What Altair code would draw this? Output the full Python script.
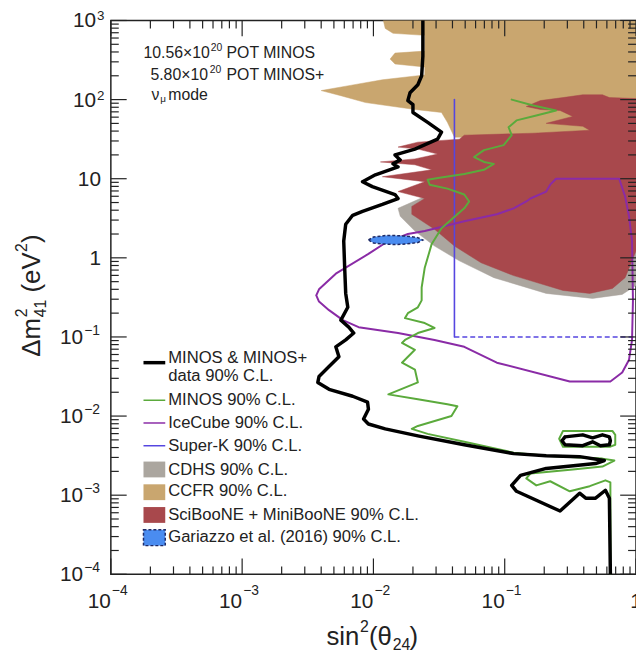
import altair as alt
import pandas as pd

FONT = "Liberation Sans, Arial, Helvetica, sans-serif"
INK = "#222222"
W, H = 531, 560

# ---------------- data (sin^2 theta24 , dm^2_41 [eV^2]) ----------------
ccfr_s2 = [0.0119, 0.0123, 0.0141, 0.0246, 0.0246, 0.0146, 0.0134, 0.0146, 0.0246, 0.0246,
           0.0117, 0.00649, 0.00400, 0.00565, 0.00871, 0.0207, 0.0330, 0.0366, 0.0414, 1.0, 1.0]
ccfr_dm2 = [1000, 794, 688, 649, 410, 387, 325, 282, 258, 205,
            178, 150, 130, 112, 91.7, 75.0, 68.8, 51.6, 33.5, 33.5, 1000]

cdhs_s2 = [1.0, 0.0492, 0.0246, 0.0154, 0.0160, 0.0207, 0.0292, 0.0451, 0.0826, 0.207, 0.467, 0.785, 1.0]
cdhs_dm2 = [21.8, 21.8, 5.96, 4.22, 3.35, 2.18, 1.41, 0.917, 0.562, 0.355, 0.307, 0.345, 0.447]

sbmb_s2 = [1.0, 0.627, 0.555, 0.393, 0.278, 0.187, 0.146, 0.187, 0.264, 0.330, 0.207, 0.393, 0.444,
           0.165, 0.0492, 0.0451, 0.0218, 0.0154, 0.0218, 0.0308, 0.0207, 0.0113, 0.0207, 0.0278,
           0.0117, 0.0246, 0.0154, 0.0246, 0.0196, 0.0196, 0.0292, 0.0414, 0.0661, 0.117, 0.278,
           0.444, 0.661, 0.826, 0.933, 1.0]
sbmb_dm2 = [103, 106, 115, 115, 106, 97.2, 81.8, 75.0, 72.9, 61.3, 50.1, 46.0, 41.0,
            37.6, 35.5, 31.6, 29.0, 25.1, 23.7, 20.5, 17.8, 16.3, 15.0, 12.95,
            10.6, 9.17, 6.88, 5.62, 4.47, 3.55, 2.30, 1.41, 0.866, 0.596, 0.387,
            0.355, 0.410, 0.562, 0.917, 1.22]

superk_s2 = [0.0414, 0.0414]
superk_dm2 = [100, 0.1]
superk_dash_s2 = [0.0414, 1.0]
superk_dash_dm2 = [0.1, 0.1]

icecube_s2 = [0.00367, 0.00385, 0.00517, 0.00916, 0.0123, 0.0183, 0.0246, 0.0492, 0.0871, 0.117,
              0.146, 0.157, 0.207, 0.222, 0.246, 0.745, 0.826, 0.885, 0.933, 0.948, 0.933,
              0.885, 0.785, 0.638, 0.313, 0.0871, 0.0492, 0.0292, 0.0154, 0.00771, 0.00585,
              0.00459, 0.00385, 0.00367]
icecube_dm2 = [0.335, 0.40, 0.631, 1.12, 1.54, 2.0, 2.18, 2.90, 3.55, 4.22,
               5.16, 5.62, 6.88, 8.41, 10.0, 10.0, 5.96, 3.35, 1.63, 0.290, 0.0917,
               0.0516, 0.0355, 0.0274, 0.0274, 0.0473, 0.0750, 0.0917, 0.112, 0.133, 0.163,
               0.218, 0.28, 0.335]

minos_s2 = [0.113, 0.165, 0.246, 0.174, 0.123, 0.107, 0.113, 0.0981, 0.0695, 0.0585, 0.0695,
            0.0826, 0.0695, 0.0492, 0.0319, 0.0259, 0.0268, 0.0366, 0.0492, 0.0536, 0.0492,
            0.0436, 0.0330, 0.0278, 0.0246, 0.0233, 0.0233, 0.0218, 0.0183, 0.0174, 0.0246,
            0.0292, 0.0218, 0.0174, 0.0165, 0.0207, 0.0165, 0.0207, 0.0218, 0.0130, 0.0218,
            0.0366, 0.0436, 0.0393, 0.0218, 0.0196, 0.0259, 0.0492, 0.117, 0.207, 0.372,
            0.555, 0.684, 0.555, 0.330, 0.157, 0.146, 0.174, 0.222, 0.313, 0.444, 0.585,
            0.638, 0.640]
minos_dm2 = [100, 84.1, 72.9, 63.1, 54.6, 44.7, 35.5, 26.6, 23.0, 18.8, 16.3,
             15.4, 12.95, 11.5, 10.3, 9.72, 8.41, 7.50, 6.31, 5.16, 4.22,
             3.55, 2.37, 1.50, 0.750, 0.422, 0.290, 0.237, 0.200, 0.173, 0.150,
             0.130, 0.112, 0.0917, 0.0841, 0.0688, 0.0473, 0.0387, 0.0266, 0.0188, 0.0163,
             0.0141, 0.0133, 0.0100, 0.00750, 0.00688, 0.00596, 0.00473, 0.00345, 0.00316, 0.00299,
             0.00290, 0.00274, 0.00230, 0.00211, 0.00188, 0.00163, 0.00133, 0.00150, 0.00112, 0.00130,
             0.00154, 0.00145, 0.0001]

minos_island_s2 = [0.278, 0.467, 0.661, 0.695, 0.695, 0.638, 0.278, 0.260, 0.278]
minos_island_dm2 = [0.00649, 0.00649, 0.00649, 0.00579, 0.00434, 0.00410, 0.00410, 0.00516, 0.00649]

comb_s2 = [0.0238, 0.0238, 0.0233, 0.0218, 0.0190, 0.0183, 0.0200, 0.0200, 0.0259, 0.0330,
           0.0308, 0.0207, 0.0146, 0.0160, 0.0141, 0.0154, 0.01035, 0.00826, 0.00981, 0.0146,
           0.0154, 0.0117, 0.00826, 0.00695, 0.00615, 0.00594, 0.00604, 0.00615, 0.00638, 0.00565,
           0.00649, 0.00708, 0.00615, 0.00517, 0.00546, 0.00459, 0.00385, 0.00377, 0.00459, 0.00695,
           0.00902, 0.00916, 0.00841, 0.00916, 0.0123, 0.0218, 0.0492, 0.117, 0.207, 0.372,
           0.574, 0.492, 0.207, 0.132, 0.113, 0.123, 0.264, 0.372, 0.414, 0.492,
           0.585, 0.627, 0.638]
comb_dm2 = [1000, 355, 200, 154, 122, 97.2, 86.6, 68.8, 51.6, 38.7,
            31.6, 23.7, 20.0, 17.3, 15.4, 14.1, 11.2, 9.17, 7.94, 6.31,
            5.62, 4.73, 3.87, 3.45, 2.66, 1.63, 0.750, 0.355, 0.237, 0.163,
            0.133, 0.112, 0.0917, 0.0750, 0.0562, 0.0422, 0.0316, 0.0266, 0.0218, 0.0178,
            0.0150, 0.0122, 0.00917, 0.00794, 0.00688, 0.00562, 0.00434, 0.00335, 0.00316, 0.00307,
            0.00274, 0.00251, 0.00218, 0.00178, 0.00133, 0.00112, 0.000631, 0.00106, 0.000917, 0.000917,
            0.001155, 0.000917, 0.0001]

comb_island_s2 = [0.288, 0.393, 0.467, 0.555, 0.627, 0.638, 0.627, 0.536, 0.467, 0.393, 0.288, 0.273, 0.288]
comb_island_dm2 = [0.00546, 0.00579, 0.00531, 0.00579, 0.00546, 0.00487, 0.00434, 0.00422, 0.00473,
                   0.00422, 0.00434, 0.00487, 0.00546]

gariazzo_s2 = [0.00916, 0.0100, 0.0123, 0.0146, 0.0180, 0.0218, 0.0238, 0.0218, 0.0180, 0.0146,
               0.0119, 0.0100, 0.00916]
gariazzo_dm2 = [1.68, 1.83, 1.91, 1.91, 1.88, 1.80, 1.68, 1.56, 1.50, 1.47, 1.50, 1.54, 1.68]

# axis ticks / labels
x_major = [1e-4, 1e-3, 1e-2, 1e-1, 1.0]
y_major = [1e-4, 1e-3, 1e-2, 1e-1, 1.0, 10.0, 100.0, 1000.0]
x_minor = [m * 10.0 ** k for k in range(-4, 0) for m in range(2, 10)]
y_minor = [m * 10.0 ** k for k in range(-4, 3) for m in range(2, 10)]
x_exp_vals = [1e-4, 1e-3, 1e-2, 1e-1]
x_exp_text = ["−4", "−3", "−2", "−1"]
y_neg_vals = [1e-4, 1e-3, 1e-2, 1e-1]
y_neg_text = ["−4", "−3", "−2", "−1"]
y_pos_vals = [100.0, 1000.0]
y_pos_text = ["2", "3"]
y_plain_vals = [1.0, 10.0]
y_plain_text = ["1", "10"]

legend_labels = ["MINOS & MINOS+", "data 90% C.L.", "MINOS 90% C.L.", "IceCube 90% C.L.",
                 "Super-K 90% C.L.", "CDHS 90% C.L.", "CCFR 90% C.L.",
                 "SciBooNE + MiniBooNE 90% C.L.", "Gariazzo et al. (2016) 90% C.L."]

C_CCFR = "#C9A66F"
C_CDHS = "#ABA69F"
C_SBMB = "#A8484C"
C_MINOS = "#5BAA3C"
C_ICE = "#8A2BA6"
C_SK = "#5546E0"
C_GAR = "#4A8CF0"

# ---------------- helpers ----------------
xsc = alt.Scale(type="log", domain=[1e-4, 1.0], nice=False)
ysc = alt.Scale(type="log", domain=[1e-4, 1e3], nice=False)


def XE(f="s2"):
    return alt.X(f"{f}:Q", scale=xsc, axis=None)


def YE(f="dm2"):
    return alt.Y(f"{f}:Q", scale=ysc, axis=None)


def frame(s2, dm2):
    return pd.DataFrame({"s2": s2, "dm2": dm2, "i": list(range(len(s2)))})


def region(s2, dm2, color):
    return alt.Chart(frame(s2, dm2)).mark_line(
        fill=color, stroke=color, strokeWidth=0.5, interpolate="linear-closed", clip=True
    ).encode(x=XE(), y=YE(), order="i:Q")


def curve(s2, dm2, color, width, dash=None):
    kw = dict(color=color, strokeWidth=width, clip=True, strokeJoin="round", strokeCap="round")
    if dash:
        kw["strokeDash"] = dash
        kw["strokeCap"] = "butt"
    return alt.Chart(frame(s2, dm2)).mark_line(**kw).encode(x=XE(), y=YE(), order="i:Q")


one = pd.DataFrame({"a": [0]})


def label(text, x, y, size, align="left", angle=None, color=INK):
    kw = dict(text=text, align=align, baseline="middle", fontSize=size, font=FONT, color=color)
    if angle is not None:
        kw["angle"] = angle
    return alt.Chart(one).mark_text(**kw).encode(x=alt.value(x), y=alt.value(y))


layers = []
layers.append(region(ccfr_s2, ccfr_dm2, C_CCFR))
layers.append(region(cdhs_s2, cdhs_dm2, C_CDHS))
layers.append(region(sbmb_s2, sbmb_dm2, C_SBMB))
layers.append(curve(superk_s2, superk_dm2, C_SK, 1.6))
layers.append(curve(superk_dash_s2, superk_dash_dm2, C_SK, 1.6, dash=[5, 3]))
layers.append(curve(icecube_s2, icecube_dm2, C_ICE, 2.0))
layers.append(curve(minos_s2, minos_dm2, C_MINOS, 2.0))
layers.append(curve(minos_island_s2, minos_island_dm2, C_MINOS, 2.0))
layers.append(curve(comb_s2, comb_dm2, "#000000", 3.5))
layers.append(curve(comb_island_s2, comb_island_dm2, "#000000", 3.5))
layers.append(
    alt.Chart(frame(gariazzo_s2, gariazzo_dm2)).mark_line(
        fill=C_GAR, stroke="#1E2A66", strokeWidth=1.5, strokeDash=[3, 2],
        interpolate="linear-closed", clip=True
    ).encode(x=XE(), y=YE(), order="i:Q")
)

# ticks (inward, on all four sides)
for vals, ln in [(x_major, 16), (x_minor, 8)]:
    d = pd.DataFrame({"v": vals})
    layers.append(alt.Chart(d).mark_rule(color=INK, strokeWidth=1.2).encode(
        x=XE("v"), y=alt.value(H), y2=alt.value(H - ln)))
    layers.append(alt.Chart(d).mark_rule(color=INK, strokeWidth=1.2).encode(
        x=XE("v"), y=alt.value(0), y2=alt.value(ln)))
for vals, ln in [(y_major, 16), (y_minor, 8)]:
    d = pd.DataFrame({"v": vals})
    layers.append(alt.Chart(d).mark_rule(color=INK, strokeWidth=1.2).encode(
        y=YE("v"), x=alt.value(0), x2=alt.value(ln)))
    layers.append(alt.Chart(d).mark_rule(color=INK, strokeWidth=1.2).encode(
        y=YE("v"), x=alt.value(W), x2=alt.value(W - ln)))

# tick labels
tx = pd.DataFrame({"v": x_exp_vals, "b": ["10"] * 4, "e": x_exp_text})
layers.append(alt.Chart(tx).mark_text(align="right", baseline="middle", fontSize=21, font=FONT, color=INK)
              .encode(x=XE("v"), y=alt.value(H + 28), text="b:N"))
layers.append(alt.Chart(tx).mark_text(align="left", baseline="middle", fontSize=14, font=FONT, color=INK, dx=1)
              .encode(x=XE("v"), y=alt.value(H + 17), text="e:N"))
layers.append(alt.Chart(pd.DataFrame({"v": [1.0], "b": ["1"]})).mark_text(
    align="center", baseline="middle", fontSize=21, font=FONT, color=INK)
    .encode(x=XE("v"), y=alt.value(H + 28), text="b:N"))

tyn = pd.DataFrame({"v": y_neg_vals, "b": ["10"] * 4, "e": y_neg_text})
layers.append(alt.Chart(tyn).mark_text(align="right", baseline="middle", fontSize=21, font=FONT, color=INK, dy=1)
              .encode(y=YE("v"), x=alt.value(-28), text="b:N"))
layers.append(alt.Chart(tyn).mark_text(align="left", baseline="middle", fontSize=14, font=FONT, color=INK, dy=-6)
              .encode(y=YE("v"), x=alt.value(-27), text="e:N"))
typ = pd.DataFrame({"v": y_pos_vals, "b": ["10"] * 2, "e": y_pos_text})
layers.append(alt.Chart(typ).mark_text(align="right", baseline="middle", fontSize=21, font=FONT, color=INK, dy=1)
              .encode(y=YE("v"), x=alt.value(-15), text="b:N"))
layers.append(alt.Chart(typ).mark_text(align="left", baseline="middle", fontSize=13.5, font=FONT, color=INK, dy=-4)
              .encode(y=YE("v"), x=alt.value(-14), text="e:N"))
typl = pd.DataFrame({"v": y_plain_vals, "b": y_plain_text})
layers.append(alt.Chart(typl).mark_text(align="right", baseline="middle", fontSize=21, font=FONT, color=INK, dy=1)
              .encode(y=YE("v"), x=alt.value(-10), text="b:N"))

# x axis title: sin^2(theta_24)
layers.append(label("sin", 218, H + 63, 26))
layers.append(label("2", 252, H + 53, 16))
layers.append(label("(θ", 261, H + 63, 26))
layers.append(label("24", 285, H + 72, 16))
layers.append(label(")", 302, H + 63, 26))

# y axis title: dm^2_41 (eV^2), rotated
layers.append(label("Δm", -80, 340, 26, angle=270))
layers.append(label("2", -90, 300, 16, angle=270))
layers.append(label("41", -71, 300, 16, angle=270))
layers.append(label("(eV", -80, 275, 26, angle=270))
layers.append(label("2", -90, 234, 16, angle=270))
layers.append(label(")", -80, 225, 26, angle=270))

# annotation
layers.append(label("10.56×10", 33, 33, 16))
layers.append(label("20", 101, 28, 10.5))
layers.append(label("POT MINOS", 117, 33, 16))
layers.append(label("5.80×10", 40, 55, 16))
layers.append(label("20", 100, 50, 10.5))
layers.append(label("POT MINOS+", 117, 55, 16))
layers.append(label("ν", 41, 75, 16))
layers.append(label("μ", 50, 79, 10))
layers.append(label("mode", 58, 75, 16))

# legend
row_y = [341, 360, 384, 407, 430, 455, 476, 500, 522]
for txt, yy in zip(legend_labels, row_y):
    layers.append(label(txt, 58, yy, 16.8))

sym_x0, sym_x1 = 33, 55
for color, yy, wdt in [("#000000", 346, 3.5), (C_MINOS, 384, 1.5), (C_ICE, 407, 1.5), (C_SK, 430, 1.5)]:
    layers.append(alt.Chart(one).mark_rule(color=color, strokeWidth=wdt).encode(
        x=alt.value(sym_x0), x2=alt.value(sym_x1), y=alt.value(yy)))
for color, y0 in [(C_CDHS, 446), (C_CCFR, 469), (C_SBMB, 492)]:
    layers.append(alt.Chart(one).mark_rect(color=color).encode(
        x=alt.value(sym_x0), x2=alt.value(sym_x1), y=alt.value(y0), y2=alt.value(y0 + 16)))
layers.append(alt.Chart(one).mark_rect(fill=C_GAR, stroke="#1E2A66", strokeWidth=1.5, strokeDash=[3, 2]).encode(
    x=alt.value(sym_x0), x2=alt.value(sym_x1), y=alt.value(515), y2=alt.value(531)))

chart = alt.layer(*layers).properties(
    width=W, height=H,
    autosize=alt.AutoSizeParams(type="none"),
    padding={"left": 104, "top": 9, "right": 0, "bottom": 80},
).configure_view(stroke=INK, strokeWidth=1.5)

chart.save("out.html", embed_options={"renderer": "svg", "actions": False})
